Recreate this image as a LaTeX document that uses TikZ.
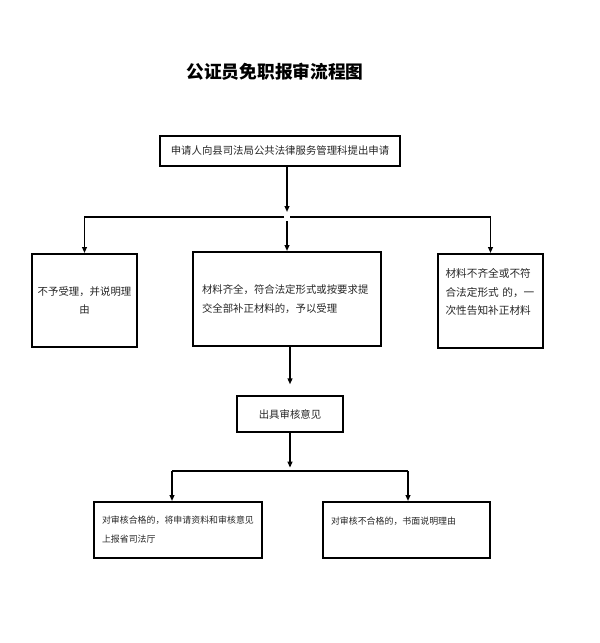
\documentclass[tikz,border=0pt]{standalone}
\usepackage{fontspec}
\newfontfamily\cjk{Noto Sans CJK SC}
\usetikzlibrary{arrows.meta}

\begin{document}
\begin{tikzpicture}[x=0.75pt,y=-0.75pt,
    >={Triangle[length=4.5pt,width=3.6pt]},
    box/.style={draw,line width=1.5pt,inner sep=0pt,text=black!85,font=\cjk\fontsize{7.8}{14}\selectfont},
    link/.style={line width=1.1pt}]
    \useasboundingbox (0,0) rectangle (600,643);
    \node[font=\cjk\bfseries\fontsize{13.3}{16}\selectfont] (title) at (275,72) {公证员免职报审流程图};
    \node[box,minimum width=180pt,minimum height=22.5pt] (apply) at (280,151) {申请人向县司法局公共法律服务管理科提出申请};
    \node[box,minimum width=78.75pt,minimum height=69.75pt,align=center] (reject) at (84.5,300.5) {不予受理，并说明理\\由};
    \node[box,minimum width=141pt,minimum height=70.5pt,inner xsep=6.75pt,text width=127.5pt,align=left] (accept) at (287,299) {材料齐全，符合法定形式或按要求提\\交全部补正材料的，予以受理};
    \node[box,minimum width=78.75pt,minimum height=70.5pt,inner xsep=5.6pt,text width=67.5pt,align=left,font=\cjk\fontsize{8}{13.9}\selectfont] (notify) at (490.5,301) {材料不齐全或不符\\合法定形式~的，一\\次性告知补正材料\\\mbox{}};
    \node[box,minimum width=79.5pt,minimum height=27pt] (opinion) at (290,414) {出具审核意见};
    \node[box,minimum width=126pt,minimum height=42pt,inner xsep=6pt,text width=114pt,align=left,font=\cjk\fontsize{6.7}{14.2}\selectfont] (pass) at (178,530) {对审核合格的，将申请资料和审核意见\\上报省司法厅};
    \node[box,minimum width=125.25pt,minimum height=42pt,inner xsep=6pt,text width=113.25pt,align=left,font=\cjk\fontsize{6.7}{14.2}\selectfont] (fail) at (406.5,530) {对审核不合格的，书面说明理由\\\mbox{}};
    \coordinate (split) at (287,217);
    \coordinate (splitl) at (284,217);
    \coordinate (splitr) at (290,217);
    \coordinate (drop) at (287,221);
    \coordinate (merge) at (290,471);
    \coordinate (mergel) at (172,471);
    \coordinate (merger) at (408,471);
    \draw[link,->,shorten >=3.75pt] (apply.south -| split) -- (split);
    \draw[link,->] (splitl) -| (reject.north);
    \draw[link,->] (splitr) -| (notify.north);
    \draw[link,->] (drop) -- (accept.north);
    \draw[link,->,shorten >=8pt] (accept.south -| opinion) -- (opinion.north);
    \draw[link,->,shorten >=2.5pt] (opinion.south) -- (merge);
    \draw[link] (mergel) -- (merger);
    \draw[link,->] (mergel) -- (mergel |- pass.north);
    \draw[link,->] (merger) -- (merger |- fail.north);
\end{tikzpicture}
\end{document}
